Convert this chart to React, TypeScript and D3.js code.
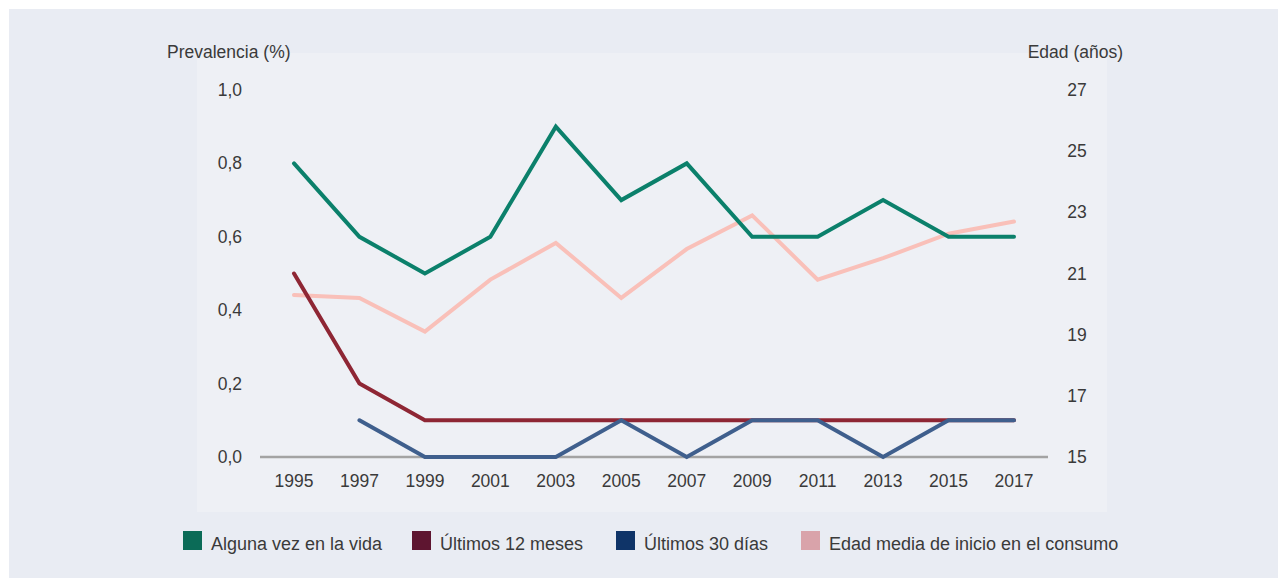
import React from "react";
import * as d3 from "d3";

const years = [1995, 1997, 1999, 2001, 2003, 2005, 2007, 2009, 2011, 2013, 2015, 2017];
const algunaVez = [0.8, 0.6, 0.5, 0.6, 0.9, 0.7, 0.8, 0.6, 0.6, 0.7, 0.6, 0.6];
const ultimos12 = [0.5, 0.2, 0.1, 0.1, 0.1, 0.1, 0.1, 0.1, 0.1, 0.1, 0.1, 0.1];
const ultimos30: (number | null)[] = [null, 0.1, 0.0, 0.0, 0.0, 0.1, 0.0, 0.1, 0.1, 0.0, 0.1, 0.1];
const edadMedia = [20.3, 20.2, 19.1, 20.8, 22.0, 20.2, 21.8, 22.9, 20.8, 21.5, 22.3, 22.7];
const leftTicks = [0, 0.2, 0.4, 0.6, 0.8, 1.0];
const rightTicks = [15, 17, 19, 21, 23, 25, 27];

const legendItems = [
  { label: "Alguna vez en la vida", color: "#0b6b57" },
  { label: "Últimos 12 meses", color: "#5e1530" },
  { label: "Últimos 30 días", color: "#0f3468" },
  { label: "Edad media de inicio en el consumo", color: "#d9a3aa" },
];

const W = 1285;
const H = 582;
const FONT = "'Liberation Sans', Arial, Helvetica, sans-serif";

export default function App() {
  const x = d3.scaleLinear().domain([1995, 2017]).range([294, 1014]);
  const yL = d3.scaleLinear().domain([0, 1]).range([457, 90]);
  const yR = d3.scaleLinear().domain([15, 27]).range([457, 90]);

  const lineL = d3
    .line<number | null>()
    .defined((d) => d !== null)
    .x((_, i) => x(years[i]))
    .y((d) => yL(d as number));
  const lineR = d3
    .line<number>()
    .x((_, i) => x(years[i]))
    .y((d) => yR(d));

  const fmt = (v: number) => v.toFixed(1).replace(".", ",");
  const legendX = [183, 412, 616, 801];
  const txt = "#3a3a3a";

  return (
    <svg
      width={W}
      height={H}
      style={{ position: "absolute", left: 0, top: 0, display: "block" }}
      fontFamily={FONT}
    >
      <rect x={9} y={9} width={1269} height={569} fill="#e9ecf3" />
      <rect x={197} y={53} width={910} height={459} fill="#eef0f5" />

      <text x={167} y={58} fontSize={17.5} fill={txt}>Prevalencia (%)</text>
      <text x={1123} y={58} fontSize={17.5} fill={txt} textAnchor="end">Edad (años)</text>

      {leftTicks.map((t) => (
        <text key={"l" + t} x={242} y={yL(t) + 6} fontSize={17.5} fill={txt} textAnchor="end">
          {fmt(t)}
        </text>
      ))}
      {rightTicks.map((t) => (
        <text key={"r" + t} x={1077} y={yR(t) + 6} fontSize={17.5} fill={txt} textAnchor="middle">
          {t}
        </text>
      ))}
      {years.map((yr) => (
        <text key={"x" + yr} x={x(yr)} y={487} fontSize={17.5} fill={txt} textAnchor="middle">
          {yr}
        </text>
      ))}

      <line x1={260} x2={1048} y1={yL(0)} y2={yL(0)} stroke="#a3a3a3" strokeWidth={2.5} />

      <path d={lineR(edadMedia) || ""} fill="none" stroke="#f9c0b9" strokeWidth={4} strokeLinecap="round" />
      <path d={lineL(algunaVez) || ""} fill="none" stroke="#0b806b" strokeWidth={4} strokeLinecap="round" />
      <path d={lineL(ultimos12) || ""} fill="none" stroke="#8e2634" strokeWidth={4} strokeLinecap="round" />
      <path d={lineL(ultimos30) || ""} fill="none" stroke="#3f5f8d" strokeWidth={4} strokeLinecap="round" />

      {legendItems.map((it, i) => (
        <g key={it.label}>
          <rect x={legendX[i]} y={531} width={19} height={19} fill={it.color} />
          <text x={legendX[i] + 28} y={550} fontSize={18} fill={txt}>{it.label}</text>
        </g>
      ))}
    </svg>
  );
}
